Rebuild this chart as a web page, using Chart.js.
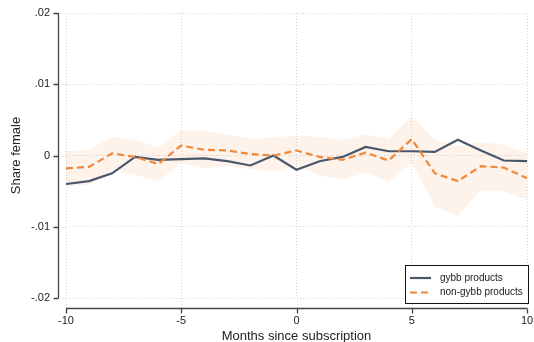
<!DOCTYPE html>
<html>
<head>
<meta charset="utf-8">
<script src="https://cdn.jsdelivr.net/npm/chart.js@4.4.1/dist/chart.umd.min.js"></script>
<style>
  html, body { margin: 0; padding: 0; background: #fff; }
  canvas { display: block; }
</style>
</head>
<body>
<canvas id="chart" width="534" height="342"></canvas>
<script>
// Months relative to subscription
const months = [-10, -9, -8, -7, -6, -5, -4, -3, -2, -1, 0, 1, 2, 3, 4, 5, 6, 7, 8, 9, 10];

// Estimated change in share female, gybb products
const gybb = [-0.0040, -0.0036, -0.0025, -0.0002, -0.0006, -0.0005, -0.0004, -0.0008, -0.0014, 0.0000,
              -0.0020, -0.0008, -0.0002, 0.0012, 0.0006, 0.0006, 0.0005, 0.0022, 0.0007, -0.0007, -0.0008];

// Estimated change in share female, non-gybb products
const nonGybb = [-0.0018, -0.0016, 0.0003, -0.0002, -0.0012, 0.0014, 0.0008, 0.0007, 0.0002, 0.0000,
                 0.0007, -0.0002, -0.0006, 0.0004, -0.0007, 0.0023, -0.0025, -0.0036, -0.0015, -0.0017, -0.0032];

// Confidence interval for non-gybb products
const nonGybbHi = [0.0006, 0.0008, 0.0026, 0.0022, 0.0011, 0.0036, 0.0034, 0.0029, 0.0024, 0.0025,
                   0.0028, 0.0026, 0.0022, 0.0029, 0.0023, 0.0055, 0.0022, 0.0013, 0.0019, 0.0015, 0.0003];
const nonGybbLo = [-0.0043, -0.0041, -0.0021, -0.0027, -0.0036, -0.0010, -0.0018, -0.0015, -0.0019, -0.0022,
                   -0.0014, -0.0028, -0.0034, -0.0024, -0.0037, -0.0010, -0.0072, -0.0085, -0.0049, -0.0050, -0.0062];

const seriesNames = ['gybb products', 'non-gybb products'];

const xTickValues = [-10, -5, 0, 5, 10];
const xTickLabels = ['-10', '-5', '0', '5', '10'];
const yTickValues = [-0.02, -0.01, 0, 0.01, 0.02];
const yTickLabels = ['-.02', '-.01', '0', '.01', '.02'];

const xTitle = 'Months since subscription';
const yTitle = 'Share female';

const toPoints = (vals) => months.map((m, i) => ({ x: m, y: vals[i] }));

const FONT = '"Liberation Sans", Arial, Helvetica, sans-serif';
const NAVY = '#4a576b';
const ORANGE = '#f0883c';

// Axis lines drawn apart from the plot region, spanning the first to last tick
const detachedAxes = {
  id: 'detachedAxes',
  afterDraw(chart) {
    const { ctx, chartArea, scales } = chart;
    const xs = scales.x, ys = scales.y;
    const ax = chartArea.left - 8 + 0.5;
    const ay = chartArea.bottom + 10 + 0.5;
    ctx.save();
    // dotted grid continues from the plot edge to the detached axes
    ctx.strokeStyle = '#d6d6d6';
    ctx.lineWidth = 1;
    ctx.setLineDash([1, 2]);
    ctx.beginPath();
    xTickValues.forEach(v => {
      const p = Math.round(xs.getPixelForValue(v)) + 0.5;
      ctx.moveTo(p, chartArea.bottom);
      ctx.lineTo(p, ay);
    });
    yTickValues.forEach(v => {
      const p = Math.round(ys.getPixelForValue(v)) + 0.5;
      ctx.moveTo(ax, p);
      ctx.lineTo(chartArea.left, p);
    });
    ctx.stroke();
    ctx.setLineDash([]);

    ctx.strokeStyle = '#444';
    ctx.lineWidth = 1.3;
    ctx.beginPath();
    // vertical axis
    const yTop = ys.getPixelForValue(yTickValues[yTickValues.length - 1]);
    const yBot = ys.getPixelForValue(yTickValues[0]);
    ctx.moveTo(ax, yTop);
    ctx.lineTo(ax, yBot);
    yTickValues.forEach(v => {
      const p = Math.round(ys.getPixelForValue(v)) + 0.5;
      ctx.moveTo(ax - 5, p);
      ctx.lineTo(ax, p);
    });
    // horizontal axis
    const xL = xs.getPixelForValue(xTickValues[0]);
    const xR = xs.getPixelForValue(xTickValues[xTickValues.length - 1]);
    ctx.moveTo(xL, ay);
    ctx.lineTo(xR, ay);
    xTickValues.forEach(v => {
      const p = Math.round(xs.getPixelForValue(v)) + 0.5;
      ctx.moveTo(p, ay);
      ctx.lineTo(p, ay + 5);
    });
    ctx.stroke();
    ctx.restore();
  }
};

// Framed legend in the lower-right corner of the plot
const boxedLegend = {
  id: 'boxedLegend',
  afterDraw(chart) {
    const { ctx, chartArea } = chart;
    const entries = chart.data.datasets.filter(ds => ds.legendEntry);
    const w = 123, rowH = 14.5, h = 38;
    const right = chartArea.right + 1;
    const bottom = chartArea.bottom + 5;
    const left = right - w, top = bottom - h;
    ctx.save();
    ctx.fillStyle = '#fff';
    ctx.fillRect(left, top, w, h);
    ctx.strokeStyle = '#111';
    ctx.lineWidth = 1;
    ctx.strokeRect(Math.round(left) + 0.5, Math.round(top) + 0.5, w, h);
    ctx.font = '10px ' + FONT;
    ctx.textBaseline = 'middle';
    ctx.textAlign = 'left';
    entries.forEach((ds, i) => {
      const cy = top + 13 + i * rowH;
      ctx.beginPath();
      ctx.strokeStyle = ds.borderColor;
      ctx.lineWidth = ds.borderWidth;
      ctx.setLineDash(ds.borderDash || []);
      ctx.moveTo(left + 5, cy);
      ctx.lineTo(left + 26, cy);
      ctx.stroke();
      ctx.setLineDash([]);
      ctx.fillStyle = '#222';
      ctx.fillText(ds.label, left + 35, cy);
    });
    ctx.restore();
  }
};

new Chart(document.getElementById('chart'), {
  type: 'line',
  data: {
    datasets: [
      {
        label: 'ci-upper',
        data: toPoints(nonGybbHi),
        borderWidth: 0,
        borderColor: 'rgba(0,0,0,0)',
        backgroundColor: 'rgba(240,135,60,0.10)',
        pointRadius: 0,
        fill: '+1',
        tension: 0,
        order: 5
      },
      {
        label: 'ci-lower',
        data: toPoints(nonGybbLo),
        borderWidth: 0,
        borderColor: 'rgba(0,0,0,0)',
        pointRadius: 0,
        fill: false,
        tension: 0,
        order: 4
      },
      {
        label: seriesNames[0],
        legendEntry: true,
        data: toPoints(gybb),
        borderColor: NAVY,
        borderWidth: 2.2,
        pointRadius: 0,
        fill: false,
        tension: 0,
        order: 2
      },
      {
        label: seriesNames[1],
        legendEntry: true,
        data: toPoints(nonGybb),
        borderColor: ORANGE,
        borderWidth: 2.2,
        borderDash: [7, 4],
        pointRadius: 0,
        fill: false,
        tension: 0,
        order: 1
      }
    ]
  },
  options: {
    responsive: false,
    animation: false,
    devicePixelRatio: 1,
    layout: { padding: { top: 13, right: 7, left: 0, bottom: 0 } },
    plugins: {
      legend: { display: false },
      tooltip: { enabled: false }
    },
    scales: {
      x: {
        type: 'linear',
        min: -10,
        max: 10,
        afterBuildTicks: (scale) => { scale.ticks = xTickValues.map(v => ({ value: v })); },
        afterFit: (scale) => { scale.height = 44; },
        ticks: {
          padding: 0,
          color: '#222',
          font: { family: FONT, size: 11 },
          maxRotation: 0,
          callback: (v) => xTickLabels[xTickValues.indexOf(v)]
        },
        grid: { color: '#d6d6d6', lineWidth: 1, drawTicks: true, tickLength: 16, tickColor: 'rgba(0,0,0,0)' },
        border: { display: false, dash: [1, 2] },
        title: {
          display: true,
          text: xTitle,
          color: '#222',
          font: { family: FONT, size: 13 },
          padding: { top: 0, bottom: -2.5 }
        }
      },
      y: {
        min: -0.02,
        max: 0.02,
        afterBuildTicks: (scale) => { scale.ticks = yTickValues.map(v => ({ value: v })); },
        afterFit: (scale) => { scale.width = 66; },
        ticks: {
          padding: 0,
          color: '#222',
          font: { family: FONT, size: 11 },
          callback: (v) => {
            const i = yTickValues.findIndex(t => Math.abs(t - v) < 1e-9);
            return i >= 0 ? yTickLabels[i] : '';
          }
        },
        grid: { color: '#d6d6d6', lineWidth: 1, drawTicks: true, tickLength: 16, tickColor: 'rgba(0,0,0,0)' },
        border: { display: false, dash: [1, 2] },
        title: {
          display: true,
          text: yTitle,
          color: '#222',
          font: { family: FONT, size: 13 },
          padding: { top: 9, bottom: 0 }
        }
      }
    }
  },
  plugins: [detachedAxes, boxedLegend]
});
</script>
</body>
</html>
